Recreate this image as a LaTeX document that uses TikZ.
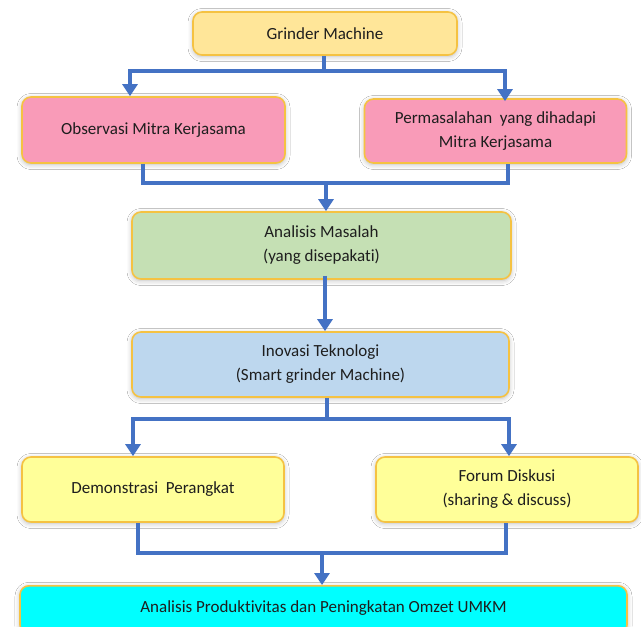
\documentclass[tikz,border=0pt]{standalone}
\usepackage{fontspec}
\setmainfont{Carlito}[Ligatures=NoCommon]
\usetikzlibrary{arrows.meta,shadows.blur}
\definecolor{cgm}{HTML}{FFE699}
\definecolor{cpink}{HTML}{F99BB8}
\definecolor{cgreen}{HTML}{C5E0B4}
\definecolor{cblue}{HTML}{BDD7EE}
\definecolor{cyel}{HTML}{FFFF99}
\definecolor{ccyan}{HTML}{00FFFF}
\definecolor{cborder}{HTML}{F5C242}
\definecolor{cline}{HTML}{4472C4}
\definecolor{ctext}{HTML}{1E1E1E}
\tikzset{
  box/.style={draw=cborder, line width=1.6pt, rounded corners=9pt, align=center,
    text=ctext, font=\fontsize{17}{24}\selectfont,
    blur shadow={shadow xshift=0pt, shadow yshift=-1.5pt, shadow blur radius=5pt, shadow opacity=28}},
  conn/.style={draw=cline, line width=4.8pt, line join=miter},
  arr/.style={conn, -{Triangle[width=15pt,length=12pt]}}
}
\begin{document}
\begin{tikzpicture}[x=1pt,y=-1pt]
\path[use as bounding box] (0,0) rectangle (641,627);
\clip (0,0) rectangle (641,627);
\fill[white] (0,0) rectangle (641,627);
% nodes
\node[box, fill=cgm, minimum width=264pt, minimum height=43pt] (gm) at (325,33.5) {Grinder Machine};
\node[box, fill=cpink, minimum width=263pt, minimum height=66pt] (obs) at (153.5,130) {Observasi Mitra Kerjasama};
\node[box, fill=cpink, minimum width=262pt, minimum height=64pt] (perm) at (495.5,131) {Permasalahan\ \ yang dihadapi\\Mitra Kerjasama};
\node[box, fill=cgreen, minimum width=379pt, minimum height=67pt] (ana) at (321.5,245.5) {Analisis Masalah\\(yang disepakati)};
\node[box, fill=cblue, minimum width=377pt, minimum height=65pt] (ino) at (320.5,364.5) {Inovasi Teknologi\\(Smart grinder Machine)};
\node[box, fill=cyel, minimum width=262pt, minimum height=65pt] (demo) at (153,489.5) {Demonstrasi\ \ Perangkat};
\node[box, fill=cyel, minimum width=262pt, minimum height=65pt] (forum) at (507,489.5) {Forum Diskusi\\(sharing \& discuss)};
\node[box, fill=ccyan, minimum width=607pt, minimum height=48pt, anchor=north] (fin) at (323.5,585) {};
\node[text=ctext, font=\fontsize{17}{24}\selectfont] (fint) at (323.5,608) {Analisis Produktivitas dan Peningkatan Omzet UMKM};
% connectors 1
\coordinate (j1) at (324,71);
\coordinate (l1) at (130,71);
\coordinate (r1) at (505,71);
\draw[conn] (gm.south -| j1) -- (j1);
\draw[arr] (j1) -- (l1) -- (l1 |- obs.north);
\draw[arr] (j1) -- (r1) -- ([yshift=-3pt]r1 |- perm.north);
% connectors 2
\coordinate (l2) at (143,183);
\coordinate (r2) at (508,183);
\coordinate (j2) at (326,183);
\draw[conn] (l2 |- obs.south) -- (l2) -- (r2) -- (r2 |- perm.south);
\draw[arr] (j2) -- (j2 |- ana.north);
% connector 3
\coordinate (j3) at (325,0);
\draw[arr] ([yshift=4pt]j3 |- ana.south) -- (j3 |- ino.north);
% connectors 4
\coordinate (j4) at (327,419);
\coordinate (l4) at (133,419);
\coordinate (r4) at (509,419);
\draw[conn] (j4 |- ino.south) -- (j4);
\draw[arr] (j4) -- (l4) -- (l4 |- demo.north);
\draw[arr] (j4) -- (r4) -- (r4 |- forum.north);
% connectors 5
\coordinate (l5) at (138,553);
\coordinate (r5) at (506,553);
\coordinate (j5) at (322,553);
\draw[conn] (l5 |- demo.south) -- (l5) -- (r5) -- (r5 |- forum.south);
\draw[arr] (j5) -- (j5 |- fin.north);
\end{tikzpicture}
\end{document}
